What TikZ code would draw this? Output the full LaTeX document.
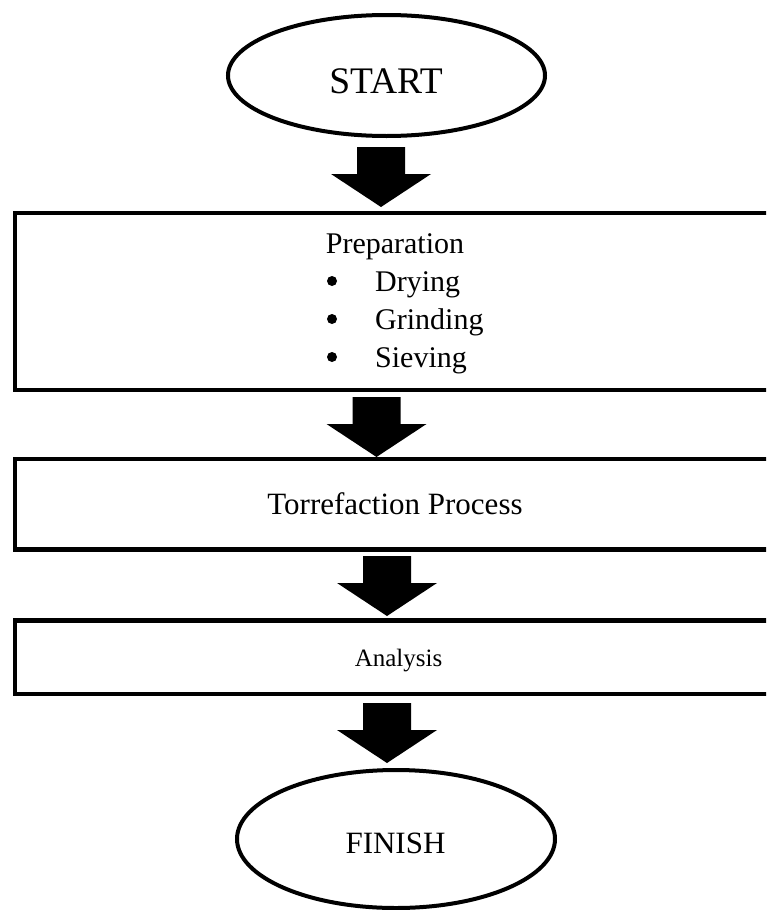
\documentclass[tikz,border=0pt]{standalone}
\usepackage{fontspec}
\setmainfont{Liberation Serif}
\usetikzlibrary{shapes.geometric,calc}
\newcommand{\myblockarrow}[2]{%
  \fill let \p1=(#1), \p2=(#2) in
    (\x1-24pt,\y1) -- (\x1+24pt,\y1) -- (\x1+24pt,\y2+33pt) -- (\x1+50pt,\y2+33pt)
    -- (\x2,\y2) -- (\x1-50pt,\y2+33pt) -- (\x1-24pt,\y2+33pt) -- cycle;}
\begin{document}
\begin{tikzpicture}[x=1pt,y=-1pt,
  term/.style={draw, ellipse, line width=4pt, inner sep=0pt},
  stagebox/.style={draw, rectangle, line width=4.5pt, inner sep=0pt},
  lbl/.style={inner sep=0pt, anchor=base},
  bul/.style={fill, circle, inner sep=0pt, minimum size=10pt},
  boxfont/.style={font=\fontsize{30}{34}\selectfont}]
\useasboundingbox (0,0) rectangle (766,910);
\clip (0,0) rectangle (766,910);
\fill[white] (0,0) rectangle (766,910);

% terminals
\node[term, minimum width=317pt, minimum height=121pt] (start) at (386.5,75.5) {};
\node[lbl, font=\fontsize{37.5}{40}\selectfont] (starttxt) at (386,93) {START};
\node[term, minimum width=318pt, minimum height=138pt] (finish) at (396,839) {};
\node[lbl, font=\fontsize{31}{34}\selectfont] (finishtxt) at (395.5,853) {FINISH};

% boxes
\node[stagebox, minimum width=785pt, minimum height=177pt] (prep) at (407.5,301.5) {};
\node[stagebox, minimum width=785pt, minimum height=90.5pt] (torr) at (407.5,504.25) {};
\node[stagebox, minimum width=785pt, minimum height=73.5pt] (anal) at (407.5,657.25) {};

% box texts
\node[lbl, boxfont] (preptxt) at (395,253) {Preparation};
\node[bul] (b1) at (332,281) {};
\node[lbl, boxfont, anchor=base west] (dry) at (375,291) {Drying};
\node[bul] (b2) at (332,319) {};
\node[lbl, boxfont, anchor=base west] (grind) at (375,329) {Grinding};
\node[bul] (b3) at (332,357) {};
\node[lbl, boxfont, anchor=base west] (siev) at (375,367) {Sieving};
\node[lbl, font=\fontsize{31}{34}\selectfont] (torrtxt) at (395,514) {Torrefaction Process};
\node[lbl, font=\fontsize{25}{28}\selectfont] (analtxt) at (398.5,666) {Analysis};

% block arrows
\coordinate (a1s) at (381,147);   \coordinate (a1e) at (381,207);
\coordinate (a2s) at (376.5,397); \coordinate (a2e) at (376.5,457);
\coordinate (a3s) at (387,556);   \coordinate (a3e) at (387,616);
\coordinate (a4s) at (387,703);   \coordinate (a4e) at (387,763);
\myblockarrow{a1s}{a1e}
\myblockarrow{a2s}{a2e}
\myblockarrow{a3s}{a3e}
\myblockarrow{a4s}{a4e}
\end{tikzpicture}
\end{document}
